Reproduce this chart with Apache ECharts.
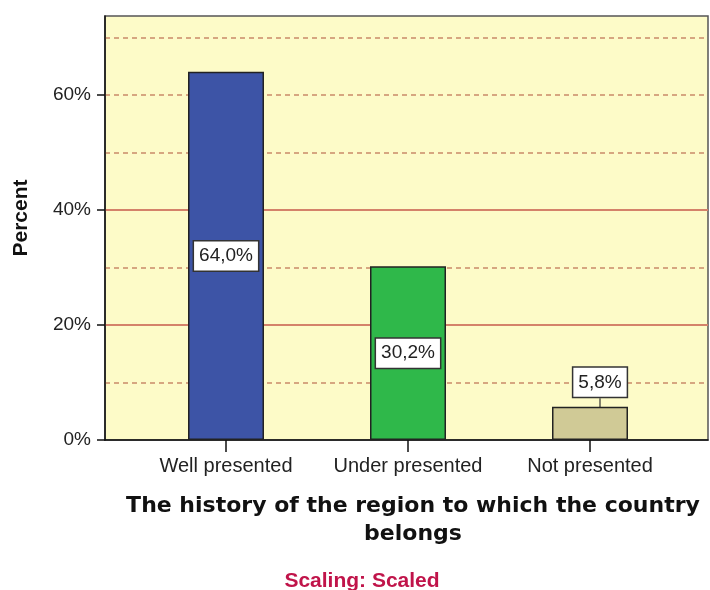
<!DOCTYPE html>
<html>
<head>
<meta charset="utf-8">
<script src="https://cdn.jsdelivr.net/npm/echarts@6/dist/echarts.min.js"></script>
<style>html,body{margin:0;padding:0;background:#fff;}#c{width:710px;height:590px;}</style>
</head>
<body>
<div id="c"></div>
<script>
const categories = ['Well presented', 'Under presented', 'Not presented'];
const percentValues = [64.0, 30.2, 5.8];
const barColors = ['#3d54a6', '#2fb84a', '#d0ca96'];
const yTickValues = [0, 20, 40, 60];
const yAxisName = 'Percent';
const xAxisTitle = 'The history of the region to which the country\nbelongs';
const footnote = 'Scaling: Scaled';

const FONT = '"Liberation Sans", Arial, sans-serif';
const TITLE_FONT = '"DejaVu Sans", Verdana, sans-serif';
const Y_MAX = 73.7;

const chart = echarts.init(document.getElementById('c'), null, {renderer: 'canvas'});

const labelBox = {
  show: true,
  position: 'inside',
  formatter: p => p.value.toFixed(1).replace('.', ',') + '%',
  backgroundColor: '#ffffff',
  borderColor: '#333333',
  borderWidth: 1.5,
  padding: [6, 5, 4, 5],
  color: '#222',
  fontFamily: FONT,
  fontSize: 19
};

const barData = percentValues.map((v, i) => {
  const item = {value: v, itemStyle: {color: barColors[i]}};
  if (i === 2) {
    item.label = {position: 'top', distance: 0};
  }
  return item;
});

chart.setOption({
  animation: false,
  backgroundColor: '#ffffff',
  title: [
    {
      text: xAxisTitle,
      left: 408, top: 487,
      textAlign: 'center',
      textStyle: {fontFamily: TITLE_FONT, fontSize: 22, fontWeight: 'bold', color: '#111', lineHeight: 28, align: 'center'}
    },
    {
      text: footnote,
      left: 357, top: 566,
      textAlign: 'center',
      textStyle: {fontFamily: FONT, fontSize: 21, fontWeight: 'bold', color: '#c0144a'}
    }
  ],
  graphic: [
    {
      type: 'text',
      x: 21, y: 218,
      rotation: Math.PI / 2,
      style: {text: yAxisName, font: 'bold 21px ' + FONT, fill: '#111', align: 'center', verticalAlign: 'middle'}
    }
  ],
  grid: [
    {left: 105, right: 2, top: 16, bottom: 150, outerBoundsMode: 'none', containLabel: false, show: true, backgroundColor: '#fdfbc8', borderColor: '#555', borderWidth: 1.5},
    {left: 135, right: 29, top: 16, bottom: 150, outerBoundsMode: 'none', containLabel: false}
  ],
  xAxis: [
    {
      type: 'value', gridIndex: 0, min: 0, max: 1,
      axisLine: {show: true, lineStyle: {color: '#111', width: 1.5}},
      axisTick: {show: false}, axisLabel: {show: false}, splitLine: {show: false}
    },
    {
      type: 'category', gridIndex: 1, data: categories,
      axisLine: {show: false},
      axisTick: {show: true, alignWithLabel: true, length: 12, lineStyle: {color: '#111', width: 1.5}},
      axisLabel: {interval: 0, hideOverlap: false, margin: 16, fontFamily: FONT, fontSize: 20, color: '#222'}
    }
  ],
  yAxis: [
    {
      type: 'value', gridIndex: 0, position: 'left', min: 0, max: Y_MAX, interval: 10,
      axisLine: {show: false}, axisTick: {show: false}, axisLabel: {show: false},
      splitLine: {show: true, showMinLine: false, showMaxLine: false, lineStyle: {color: '#c98a68', width: 1.6, type: [5, 4]}}
    },
    {
      type: 'value', gridIndex: 0, position: 'left', min: 0, max: Y_MAX, interval: 20,
      axisLine: {show: true, lineStyle: {color: '#111', width: 1.5}},
      axisTick: {show: true, length: 8, customValues: yTickValues, lineStyle: {color: '#111', width: 1.5}},
      axisLabel: {customValues: yTickValues, formatter: '{value}%', margin: 14, fontFamily: FONT, fontSize: 19, color: '#222'},
      splitLine: {show: true, showMinLine: false, showMaxLine: false, lineStyle: {color: '#d4826a', width: 2}}
    },
    {
      type: 'value', gridIndex: 1, position: 'left', min: 0, max: Y_MAX,
      axisLine: {show: false}, axisTick: {show: false}, axisLabel: {show: false}, splitLine: {show: false}
    }
  ],
  series: [
    {
      type: 'bar',
      xAxisIndex: 1, yAxisIndex: 2,
      barWidth: 76,
      data: barData,
      itemStyle: {borderColor: '#222', borderWidth: 1.5},
      label: labelBox,
      labelLine: {show: true, lineStyle: {color: '#333', width: 1.2}},
      labelLayout: p => (p.dataIndex === 2 ? {dx: 10, dy: -10} : {})
    }
  ]
});
</script>
</body>
</html>
